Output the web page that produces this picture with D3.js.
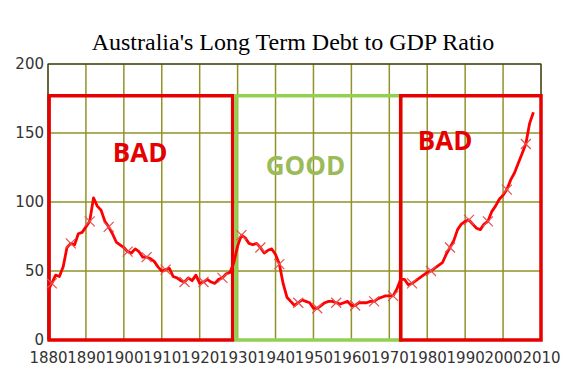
<!DOCTYPE html>
<html>
<head>
<meta charset="utf-8">
<script src="https://cdn.jsdelivr.net/npm/d3@7"></script>
<style>
  body { margin: 0; background: #fff; }
  svg { display: block; }
</style>
</head>
<body>
<div id="chart-area"></div>
<script>
// debt to GDP ratio (%), one value per year
var years = [
  1880, 1881, 1882, 1883, 1884, 1885, 1886, 1887, 1888, 1889,
  1890, 1891, 1892, 1893, 1894, 1895, 1896, 1897, 1898, 1899,
  1900, 1901, 1902, 1903, 1904, 1905, 1906, 1907, 1908, 1909,
  1910, 1911, 1912, 1913, 1914, 1915, 1916, 1917, 1918, 1919,
  1920, 1921, 1922, 1923, 1924, 1925, 1926, 1927, 1928, 1929,
  1930, 1931, 1932, 1933, 1934, 1935, 1936, 1937, 1938, 1939,
  1940, 1941, 1942, 1943, 1944, 1945, 1946, 1947, 1948, 1949,
  1950, 1951, 1952, 1953, 1954, 1955, 1956, 1957, 1958, 1959,
  1960, 1961, 1962, 1963, 1964, 1965, 1966, 1967, 1968, 1969,
  1970, 1971, 1972, 1973, 1974, 1975, 1976, 1977, 1978, 1979,
  1980, 1981, 1982, 1983, 1984, 1985, 1986, 1987, 1988, 1989,
  1990, 1991, 1992, 1993, 1994, 1995, 1996, 1997, 1998, 1999,
  2000, 2001, 2002, 2003, 2004, 2005, 2006, 2007, 2008
];
var ratio = [
  36, 41, 47, 46, 53, 67, 70, 69, 77, 78,
  82, 86, 103, 97, 94, 86, 82, 77, 71, 69,
  67, 64, 63, 66, 64, 60, 60, 59, 57, 53,
  50, 51, 52, 46, 45, 43, 42, 45, 43, 47,
  41, 42, 44, 42, 41, 44, 45, 48, 49, 56,
  68, 76, 74, 70, 69, 70, 67, 63, 65, 66,
  62, 55, 41, 31, 28, 25, 27, 29, 28, 27,
  23, 23, 25, 27, 28, 28, 27, 26, 27, 28,
  25, 25, 27, 27, 27, 28, 28, 30, 31, 32,
  32, 32, 37, 44, 44, 40, 41, 43, 45, 47,
  49, 50, 52, 54, 56, 62, 67, 72, 80, 84,
  86, 87, 84, 81, 80, 84, 86, 93, 97, 102,
  105, 109, 116, 121, 128, 135, 142, 157, 165
];
var markerYears = [1881, 1886, 1891, 1896, 1901, 1906, 1911, 1916, 1921, 1926,
  1931, 1936, 1941, 1946, 1951, 1956, 1961, 1966, 1971, 1976,
  1981, 1986, 1991, 1996, 2001, 2006];

var xTicks = [1880, 1890, 1900, 1910, 1920, 1930, 1940, 1950, 1960, 1970, 1980, 1990, 2000, 2010];
var yTicks = [0, 50, 100, 150, 200];

var zoneLabels = ["BAD", "GOOD", "BAD"];
var zoneStart = [1880.3, 1929.6, 1973];
var zoneEnd = [1928.7, 1973, 2010];
var zoneTop = 177;

var margin = { left: 48, right: 43, top: 64, bottom: 47 };
var w = 584 - margin.left - margin.right;
var h = 387 - margin.top - margin.bottom;

var svg = d3.select("#chart-area").append("svg")
  .attr("width", 584)
  .attr("height", 387);

var group = svg.append("g")
  .attr("transform", "translate(" + margin.left + ", " + margin.top + ")");

var x = d3.scaleLinear().domain([1880, 2010]).range([0, w]);
var y = d3.scaleLinear().domain([0, 200]).range([h, 0]);

var gridColor = "#929228";

// grid
group.selectAll(".vgrid").data(xTicks).enter().append("line")
  .attr("x1", d => x(d)).attr("x2", d => x(d))
  .attr("y1", 0).attr("y2", h)
  .attr("stroke", gridColor).attr("stroke-width", 1.5);
group.selectAll(".hgrid").data(yTicks).enter().append("line")
  .attr("x1", 0).attr("x2", w)
  .attr("y1", d => y(d)).attr("y2", d => y(d))
  .attr("stroke", gridColor).attr("stroke-width", 1.5);

// frame
group.append("rect")
  .attr("x", 0).attr("y", 0).attr("width", w).attr("height", h)
  .attr("fill", "none").attr("stroke", "#222").attr("stroke-width", 1);

// axes labels
var bottom = d3.axisBottom(x).tickValues(xTicks).tickSize(0).tickFormat(d3.format("d"));
group.append("g")
  .attr("class", "bottom axis")
  .attr("transform", "translate(0, " + h + ")")
  .call(bottom)
  .call(g => g.select(".domain").remove())
  .selectAll("text")
  .attr("dy", "0")
  .attr("y", 23)
  .attr("fill", "#333")
  .attr("font-family", "DejaVu Sans")
  .attr("font-size", "15px");

var left = d3.axisLeft(y).tickValues(yTicks).tickSize(0);
group.append("g")
  .attr("class", "left axis")
  .call(left)
  .call(g => g.select(".domain").remove())
  .selectAll("text")
  .attr("x", -4)
  .attr("fill", "#333")
  .attr("font-family", "DejaVu Sans")
  .attr("font-size", "15px");

// zones
var zoneColors = ["#e60000", "#92d050", "#e60000"];
group.selectAll(".zone").data(zoneLabels).enter().append("rect")
  .attr("x", (d, i) => x(zoneStart[i]))
  .attr("y", y(zoneTop))
  .attr("width", (d, i) => x(zoneEnd[i]) - x(zoneStart[i]))
  .attr("height", y(0) - y(zoneTop))
  .attr("fill", "none")
  .attr("stroke", (d, i) => zoneColors[i])
  .attr("stroke-width", 3.5);

var labelColors = ["#e60000", "#9bbb59", "#e60000"];
var labelX = [1904.3, 1947.9, 1984.7];
var labelY = [129, 119.5, 137.7];
group.selectAll(".zone-label").data(zoneLabels).enter().append("text")
  .attr("x", (d, i) => x(labelX[i]))
  .attr("y", (d, i) => y(labelY[i]))
  .attr("text-anchor", "middle")
  .attr("font-family", "Open Sans")
  .attr("font-weight", "bold")
  .attr("font-size", "26px")
  .attr("fill", (d, i) => labelColors[i])
  .text(d => d);

// series
var line = d3.line()
  .x((d, i) => x(years[i]))
  .y(d => y(d));

group.append("path")
  .datum(ratio)
  .attr("fill", "none")
  .attr("stroke", "#ff0000")
  .attr("stroke-width", 2.8)
  .attr("stroke-linejoin", "round")
  .attr("d", line);

group.selectAll(".marker").data(markerYears).enter().append("path")
  .attr("transform", d => "translate(" + x(d) + "," + y(ratio[years.indexOf(d)]) + ")")
  .attr("d", "M-5,-5L5,5M-5,5L5,-5")
  .attr("stroke", "#e85050")
  .attr("stroke-width", 1.2)
  .attr("fill", "none");

// title
svg.append("text")
  .attr("x", 293)
  .attr("y", 50)
  .attr("text-anchor", "middle")
  .attr("font-family", "Liberation Serif")
  .attr("font-size", "24px")
  .attr("fill", "#000")
  .text("Australia's Long Term Debt to GDP Ratio");
</script>
</body>
</html>
